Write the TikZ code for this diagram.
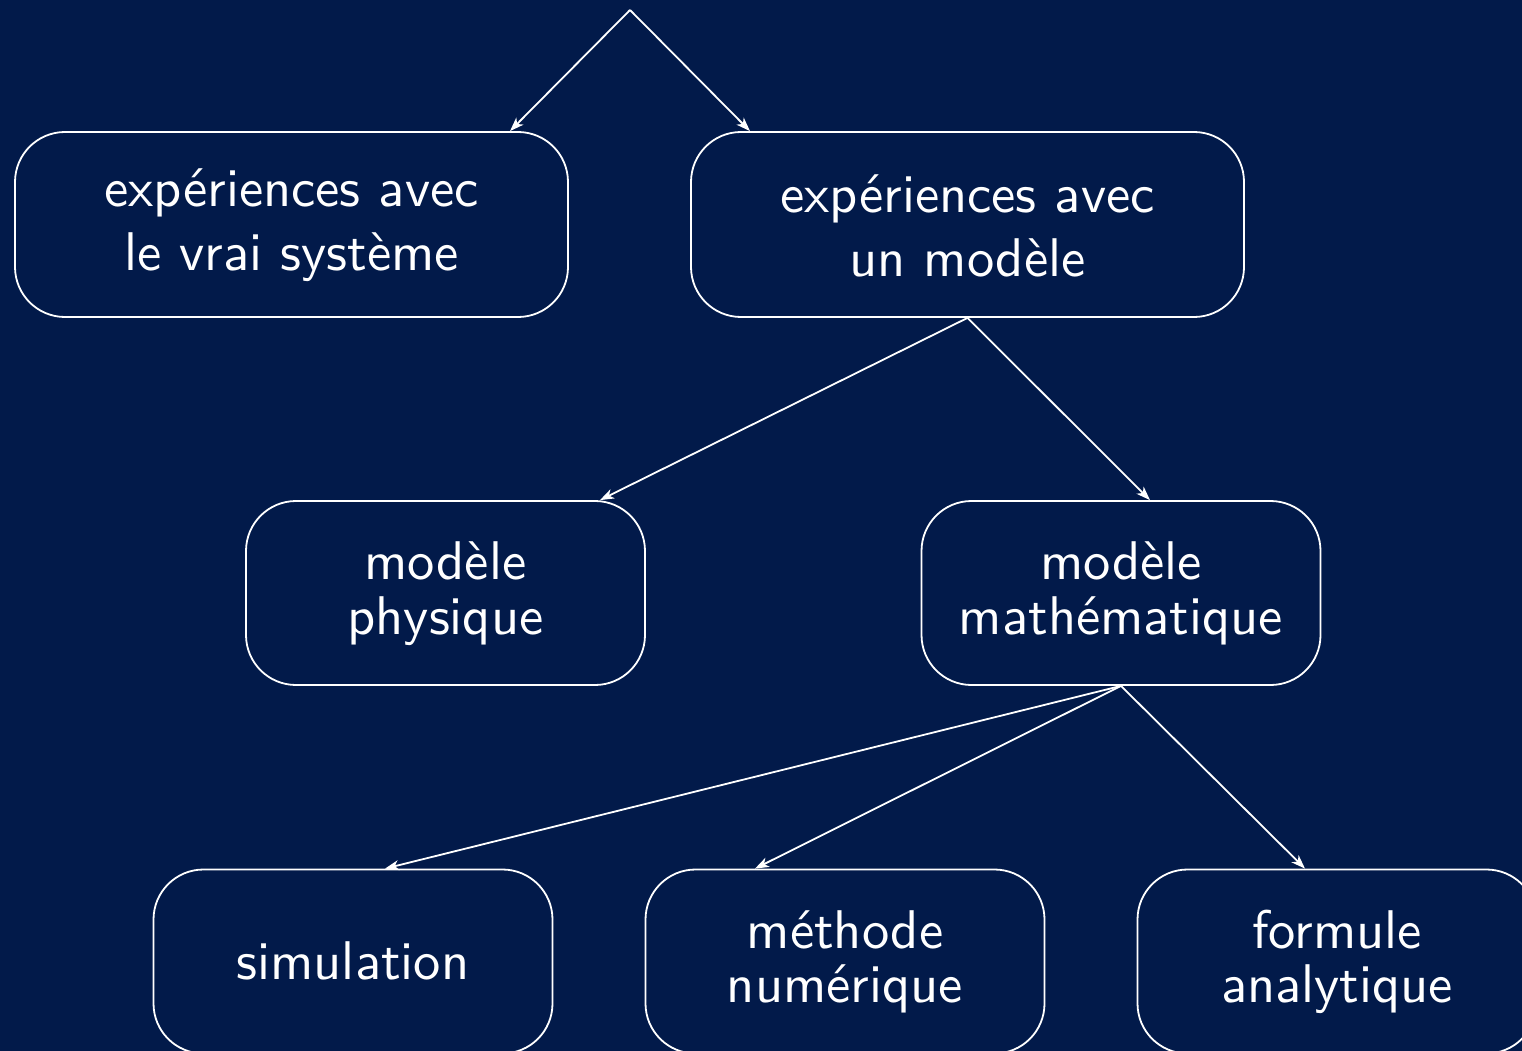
\documentclass[tikz,border=0pt]{standalone}
\usepackage{graphicx}
\usetikzlibrary{arrows.meta}
\definecolor{navy}{RGB}{2,26,74}
\newcommand\bt[1]{\scalebox{5.45}{\sffamily\fontsize{10}{10}\selectfont\begin{tabular}{@{}c@{}}#1\end{tabular}}}
\tikzset{
  box/.style={draw=white, line width=1.8pt, rounded corners=50pt, fill=navy,
    inner sep=0pt},
  wide/.style={box, minimum width=553pt, minimum height=185pt},
  mid/.style={box, minimum width=399pt, minimum height=184pt},
  txt/.style={text=white, inner sep=0pt},
  edge/.style={draw=white, line width=1.8pt,
    -{Stealth[length=14pt,width=10pt,inset=4pt]}}
}
\begin{document}
\begin{tikzpicture}[x=1pt,y=-1pt]
\useasboundingbox (0,0) rectangle (1522,1051);
\fill[navy] (0,0) rectangle (1522,1051);
\clip (0,0) rectangle (1522,1051);
\coordinate (top) at (630,10);
\node[wide] (b1) at (291.5,224.5) {};
\node[wide] (b2) at (967.5,224.5) {};
\node[mid] (b3) at (445.5,593) {};
\node[mid] (b4) at (1121,593) {};
\node[mid] (b5) at (353,961.5) {};
\node[mid] (b6) at (845,961.5) {};
\node[mid] (b7) at (1337,961.5) {};
\node[txt] (t1) at ([yshift=-3pt]b1.center) {\bt{expériences avec\\[1.6pt]le vrai système}};
\node[txt] (t2) at ([yshift=-9pt]b2.center) {\bt{expériences avec\\[1.6pt]un modèle}};
\node[txt] (t3) at ([yshift=-3pt]b3.center) {\bt{modèle\\physique}};
\node[txt] (t4) at ([yshift=-3pt]b4.center) {\bt{modèle\\mathématique}};
\node[txt] (t5) at ([yshift=-7pt]b5.center) {\bt{simulation}};
\node[txt] (t6) at ([yshift=-3pt]b6.center) {\bt{méthode\\numérique}};
\node[txt] (t7) at ([yshift=-3pt]b7.center) {\bt{formule\\analytique}};
\draw[edge] (top) -- ([xshift=218.5pt]b1.north);
\draw[edge] (top) -- ([xshift=-217.5pt]b2.north);
\draw[edge] (b2.south) -- ([xshift=154.5pt]b3.north);
\draw[edge] (b2.south) -- ([xshift=29pt]b4.north);
\draw[edge] (b4.south) -- ([xshift=32pt]b5.north);
\draw[edge] (b4.south) -- ([xshift=-90pt]b6.north);
\draw[edge] (b4.south) -- ([xshift=-32pt]b7.north);
\end{tikzpicture}
\end{document}
